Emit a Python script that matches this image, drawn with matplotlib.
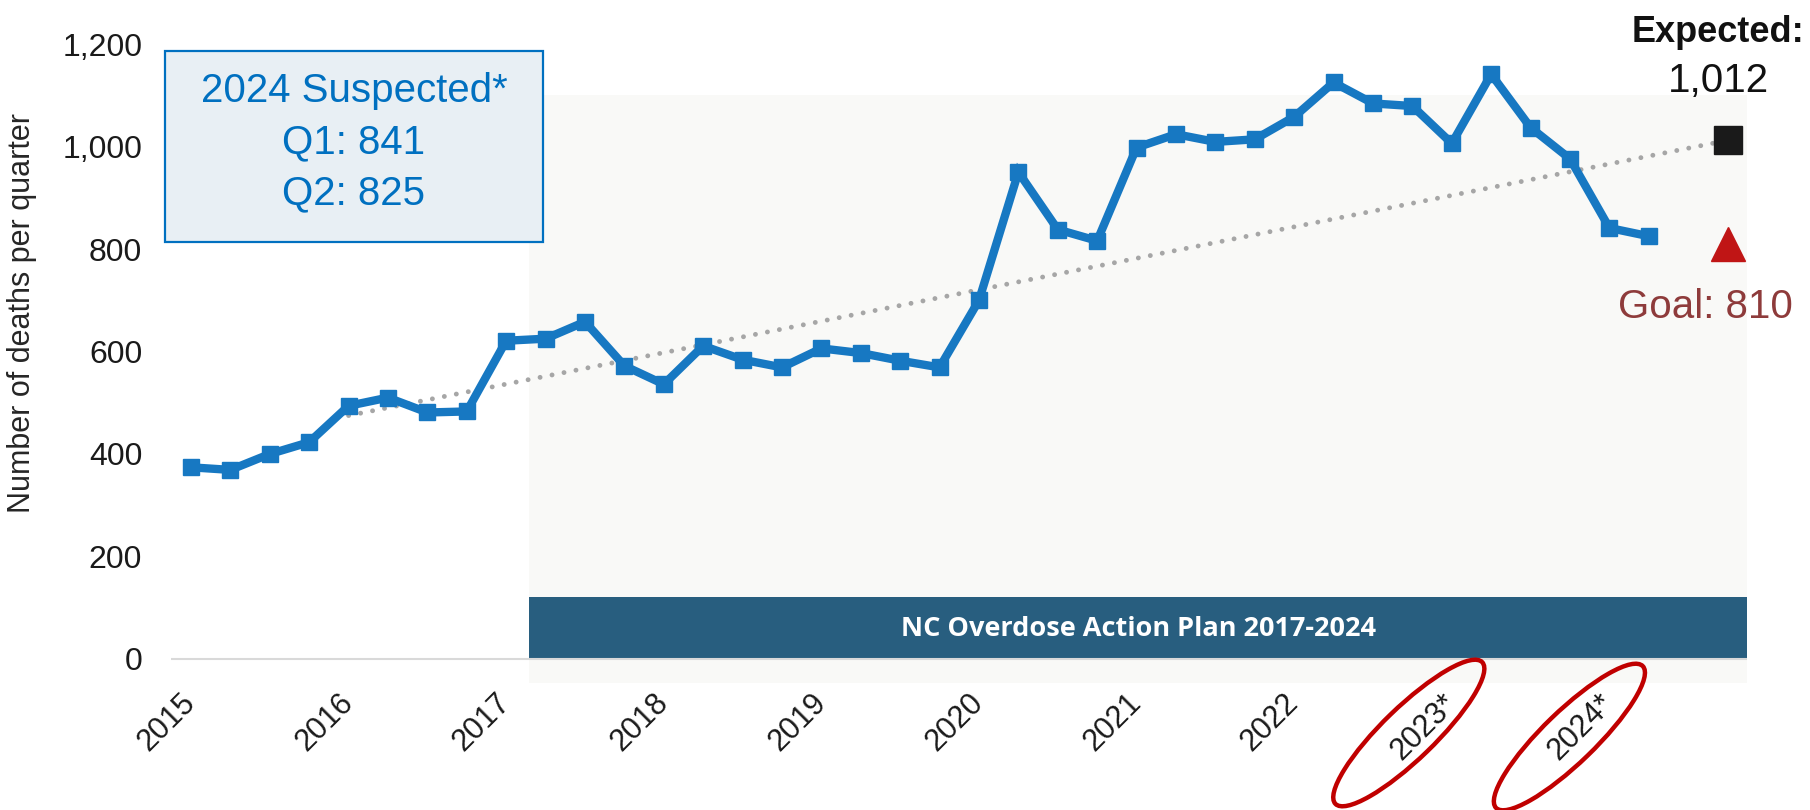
import matplotlib
matplotlib.use('Agg')
import matplotlib.pyplot as plt
from matplotlib.patches import Rectangle, Ellipse
from matplotlib.transforms import IdentityTransform
from matplotlib.ticker import FuncFormatter

plt.rcParams['font.family'] = ['Liberation Sans', 'DejaVu Sans']

# ---------------- data ----------------
year_labels = ['2015', '2016', '2017', '2018', '2019', '2020', '2021', '2022', '2023*', '2024*']
year_tick_quarters = [0, 4, 8, 12, 16, 20, 24, 28, 32, 36]
deaths = [374, 369, 400, 423, 494, 510, 481, 483,
          621, 625, 658, 572, 536, 611, 584, 569,
          606, 597, 582, 569, 700, 950, 838, 816,
          998, 1024, 1009, 1014, 1058, 1125, 1084, 1079,
          1006, 1141, 1037, 976, 841, 825]
quarters = list(range(len(deaths)))
trend_start_quarter = 4
trend_start_value = 475
target_quarter = 39
expected_value = 1012
goal_value = 810
plan_label = 'NC Overdose Action Plan 2017-2024'
circled_labels = ['2023*', '2024*']

# ---------------- figure ----------------
W, H = 1810, 810
fig = plt.figure(figsize=(W / 100, H / 100), dpi=100)
fig.patch.set_facecolor('white')
ax = fig.add_axes([171.3 / W, 0.1548, 1576 / W, 0.8225])
ax.set_xlim(-0.5, 39.5)
ax.set_ylim(-50, 1250)
for s in ax.spines.values():
    s.set_visible(False)
ax.set_facecolor('none')

plan_x0, plan_x1 = 8.58, 39.5
ax.add_patch(Rectangle((plan_x0, -47), plan_x1 - plan_x0, 1100 + 47,
                       facecolor='#F9F9F7', edgecolor='none', zorder=0))
ax.add_patch(Rectangle((plan_x0, 0), plan_x1 - plan_x0, 120,
                       facecolor='#285E7F', edgecolor='none', zorder=1))
ax.text((plan_x0 + plan_x1) / 2, 58, plan_label, color='white', fontsize=19.5,
        fontweight='bold', family=['Open Sans', 'DejaVu Sans'],
        ha='center', va='center', zorder=2)
ax.plot([-0.5, 39.5], [0, 0], color='#D9D9D9', lw=1.5, zorder=1.5, solid_capstyle='butt')

# trend line
ax.plot([trend_start_quarter, target_quarter], [trend_start_value, expected_value],
        color='#A6A6A6', lw=3.5, linestyle=(0, (0.01, 2.5)),
        dash_capstyle='round', zorder=3)
# main series
ax.plot(quarters, deaths, color='#1778C2', lw=6, marker='s', markersize=11.5,
        zorder=4, solid_joinstyle='miter')
# expected & goal markers
ax.plot([target_quarter], [expected_value], marker='s', markersize=20,
        color='#1A1A1A', zorder=5, linestyle='none')
ax.plot([target_quarter], [goal_value], marker='^', markersize=24,
        color='#C01515', zorder=5, linestyle='none')

ax.text(38.76, 1204, 'Expected:', fontsize=26, fontweight='bold', color='#111111',
        ha='center', va='baseline', clip_on=False)
ax.text(38.76, 1107, f'{expected_value:,}', fontsize=29, color='#111111',
        ha='center', va='baseline', clip_on=False)
ax.text(38.43, 665, f'Goal: {goal_value}', fontsize=29, color='#8E3B3B',
        ha='center', va='baseline', clip_on=False)

# axes ticks
ax.set_yticks(range(0, 1201, 200))
ax.yaxis.set_major_formatter(FuncFormatter(lambda v, p: f'{int(v):,}'))
ax.tick_params(axis='y', length=0, pad=21, labelsize=23, labelcolor='#1A1A1A')
ax.set_xticks(year_tick_quarters)
ax.set_xticklabels(year_labels, rotation=45, ha='right', rotation_mode='anchor', va='center')
ax.tick_params(axis='x', length=0, pad=10, labelsize=22, labelcolor='#1A1A1A')

fig.text(22 / W, 1 - 313 / H, 'Number of deaths per quarter', rotation=90,
         fontsize=22, color='#262626', ha='center', va='center')

# suspected box
bx0, by0, bx1, by1 = 165, 51, 543, 242
fig.add_artist(Rectangle((bx0 / W, 1 - by1 / H), (bx1 - bx0) / W, (by1 - by0) / H,
                         transform=fig.transFigure, facecolor='#E8EFF4',
                         edgecolor='#0070C0', lw=1.6, zorder=6))
box_lines = ['2024 Suspected*', f'Q1: {deaths[-2]}', f'Q2: {deaths[-1]}']
for txt, yb in zip(box_lines, [102, 153, 204]):
    fig.text(354 / W, 1 - yb / H, txt, fontsize=29, color='#0070C0',
             ha='center', va='baseline', zorder=7)

# red ellipses round the suspected-year labels
fig.canvas.draw()
for lab, dx, ytop in zip(circled_labels, [-43, -40], [733, 737]):
    q = year_tick_quarters[year_labels.index(lab)]
    tx = ax.transData.transform((q, 0))[0]
    fig.add_artist(Ellipse((tx + dx, H - ytop), width=204, height=52, angle=44,
                           transform=IdentityTransform(), fill=False,
                           edgecolor='#C00000', lw=3.2, zorder=8))

fig.savefig('out.png', dpi=100, facecolor='white')
